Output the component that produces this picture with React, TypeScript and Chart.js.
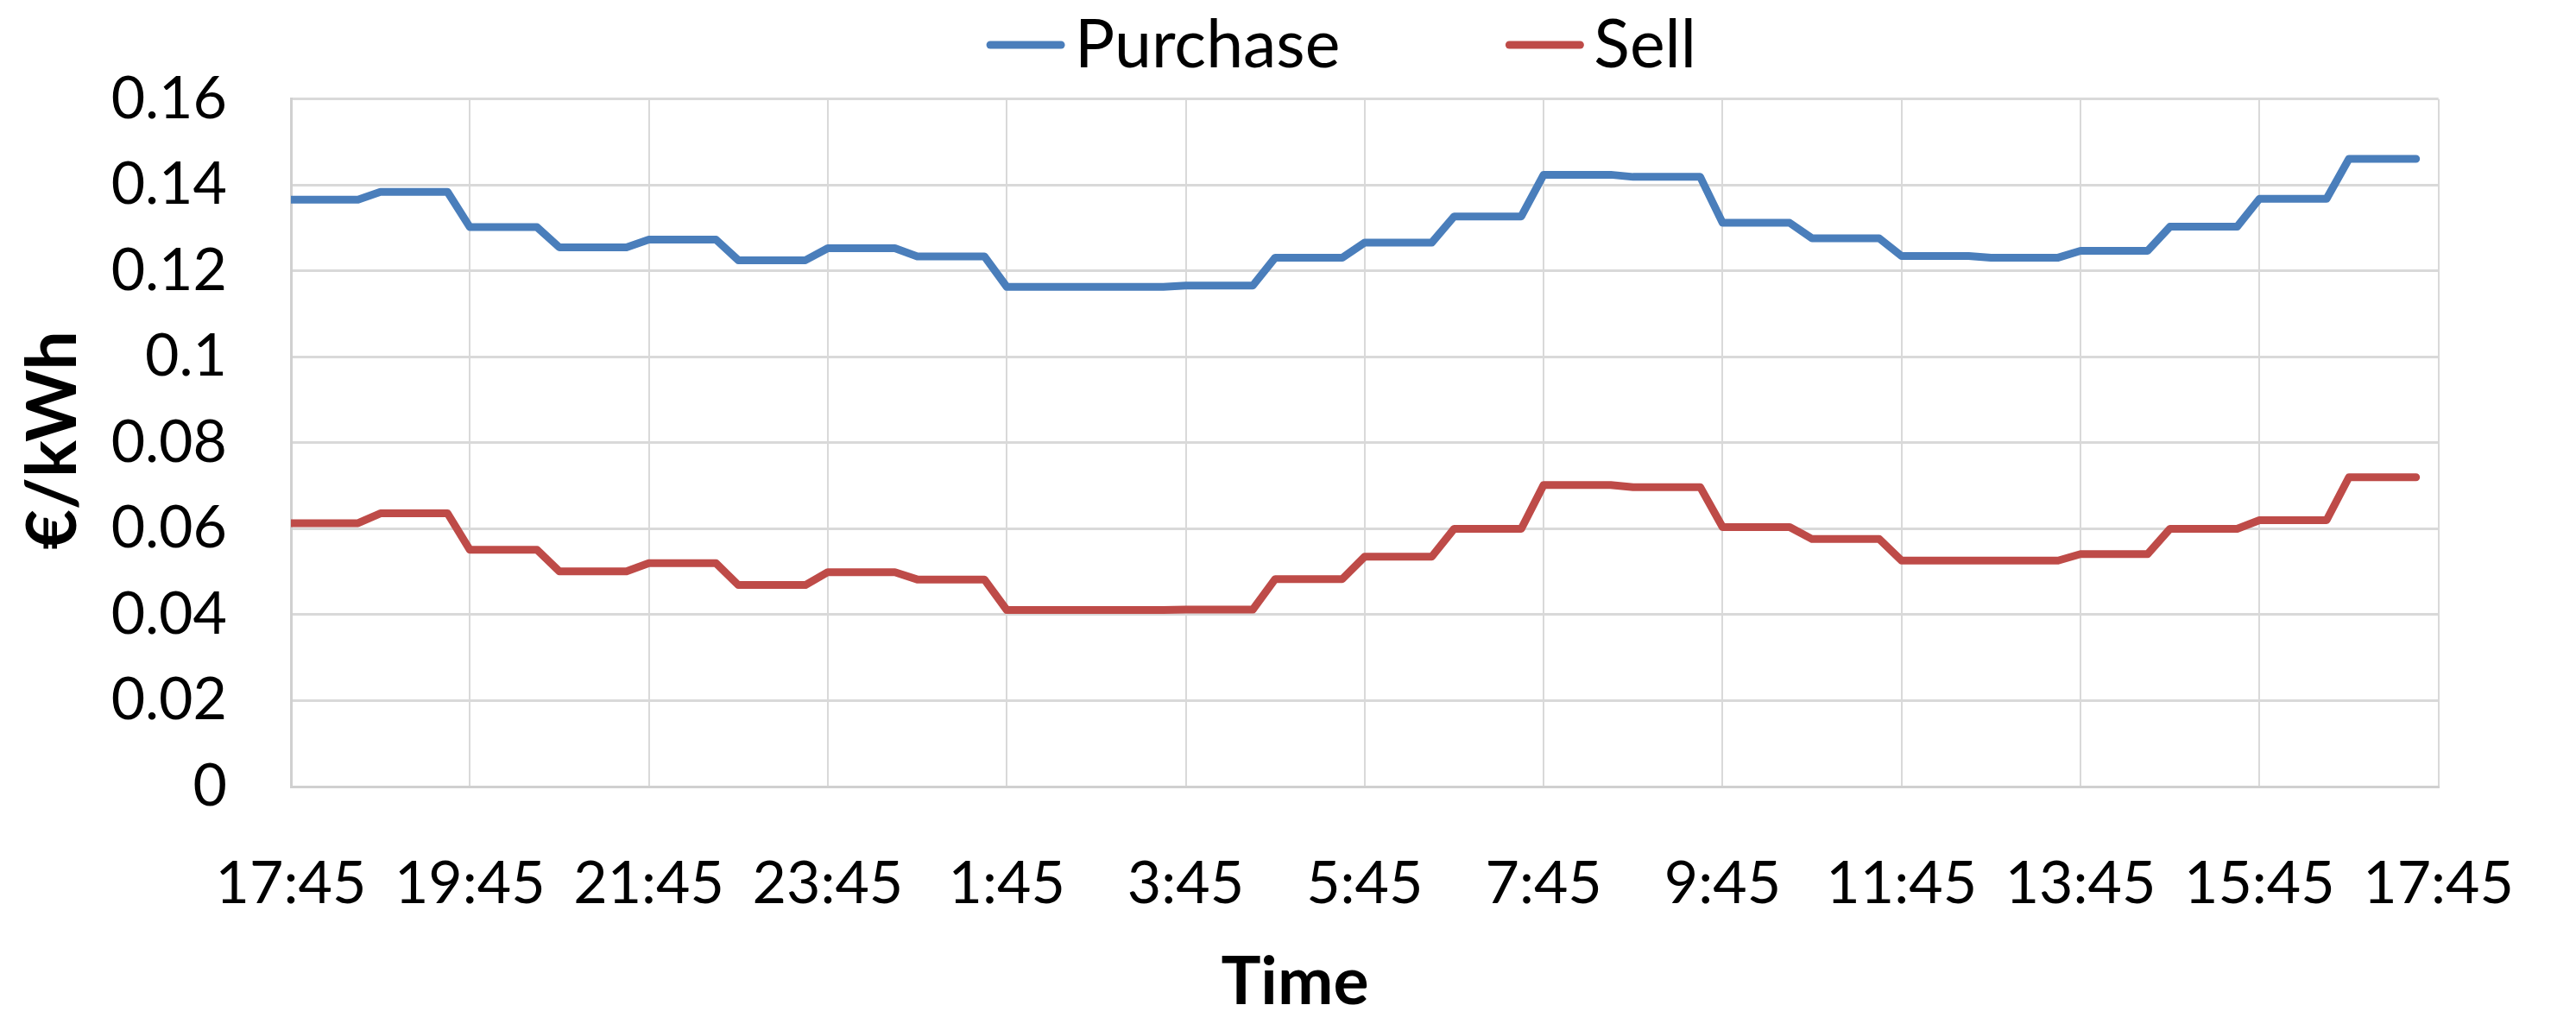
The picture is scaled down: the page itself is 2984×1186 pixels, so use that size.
import React, { useEffect, useRef } from "react";
import { Chart, registerables } from "chart.js";

Chart.register(...registerables);

// Hourly prices (each hour block starts at xx:45), €/kWh
const purchasePrice = [
  0.1366, 0.1384, 0.1302, 0.1255, 0.1273, 0.1225, 0.1253, 0.1234,
  0.1163, 0.1163, 0.1166, 0.1231, 0.1266, 0.1327, 0.1424, 0.1419,
  0.1312, 0.1276, 0.1235, 0.1231, 0.1247, 0.1303, 0.1368, 0.1461,
];
const sellPrice = [
  0.0613, 0.0636, 0.0551, 0.0501, 0.052, 0.0469, 0.0499, 0.0482,
  0.0411, 0.0411, 0.0412, 0.0483, 0.0535, 0.06, 0.0702, 0.0697,
  0.0604, 0.0576, 0.0526, 0.0526, 0.0541, 0.06, 0.062, 0.072,
];
const timeTickLabels = [
  "17:45", "19:45", "21:45", "23:45", "1:45", "3:45", "5:45",
  "7:45", "9:45", "11:45", "13:45", "15:45", "17:45",
];
const seriesNames = ["Purchase", "Sell"];
const seriesColors = ["#4A7EBB", "#BE4B48"];
const yAxisTitle = "€/kWh";
const xAxisTitle = "Time";

const STEP_MIN = 15;
const STEPS_PER_HOUR = 4;

const toPoints = (prices: number[]) =>
  prices.flatMap((p, h) =>
    Array.from({ length: STEPS_PER_HOUR }, (_, q) => ({
      x: (h * STEPS_PER_HOUR + q) * STEP_MIN,
      y: p,
    }))
  );

const FONT = "Lato, 'Liberation Sans', sans-serif";

const decorPlugin = {
  id: "decor",
  afterDraw(chart: any) {
    const { ctx } = chart;
    ctx.save();
    // Legend
    ctx.font = `77px ${FONT}`;
    ctx.fillStyle = "#000";
    ctx.textBaseline = "alphabetic";
    ctx.textAlign = "left";
    const sample = 90;
    const gap = 12;
    const itemGap = 192;
    const widths = seriesNames.map((n) => ctx.measureText(n).width);
    const total =
      widths.reduce((a: number, w: number) => a + w + sample + gap, 0) +
      itemGap * (seriesNames.length - 1);
    let x = 1554 - total / 2;
    const baseY = 78;
    seriesNames.forEach((name, i) => {
      ctx.strokeStyle = seriesColors[i];
      ctx.lineWidth = 9;
      ctx.lineCap = "round";
      ctx.beginPath();
      ctx.moveTo(x + 4, 52);
      ctx.lineTo(x + sample - 4, 52);
      ctx.stroke();
      ctx.fillText(name, x + sample + gap, baseY);
      x += sample + gap + widths[i] + itemGap;
    });
    // X title
    ctx.font = `bold 77px ${FONT}`;
    ctx.textAlign = "center";
    ctx.fillText(xAxisTitle, 1500, 1163);
    // Y title
    ctx.font = `bold 80px ${FONT}`;
    ctx.translate(88, 510);
    ctx.rotate(-Math.PI / 2);
    ctx.fillText(yAxisTitle, 0, 0);
    ctx.restore();
  },
};

export default function App() {
  const ref = useRef<HTMLCanvasElement | null>(null);
  useEffect(() => {
    if (!ref.current) return;
    const tickFont = { family: FONT, size: 68 };
    const chart = new Chart(ref.current, {
      type: "line",
      data: {
        datasets: [purchasePrice, sellPrice].map((arr, i) => ({
          label: seriesNames[i],
          data: toPoints(arr),
          borderColor: seriesColors[i],
          backgroundColor: seriesColors[i],
          borderWidth: 9,
          pointRadius: 0,
          tension: 0,
          borderJoinStyle: "round",
          borderCapStyle: "round",
          fill: false,
        })),
      },
      options: {
        animation: false,
        responsive: false,
        layout: { padding: { top: 113, right: 99, bottom: 0, left: 0 } },
        plugins: { legend: { display: false }, tooltip: { enabled: false } },
        scales: {
          x: {
            type: "linear",
            min: 0,
            max: 1440,
            ticks: {
              stepSize: 120,
              autoSkip: false,
              maxRotation: 0,
              padding: 72,
              color: "#000",
              font: tickFont,
              callback: (v: any) => timeTickLabels[Math.round(Number(v) / 120)] ?? "",
            },
            grid: { color: "#D9D9D9", lineWidth: 2, drawTicks: false },
            border: { color: "#D0D0D0", width: 3 },
            afterFit: (s: any) => {
              s.height = 275;
            },
          },
          y: {
            min: 0,
            max: 0.16,
            ticks: {
              stepSize: 0.02,
              padding: 74,
              color: "#000",
              font: tickFont,
              callback: (v: any) => String(+Number(v).toFixed(2)),
            },
            grid: { color: "#D9D9D9", lineWidth: 3, drawTicks: false },
            border: { color: "#D0D0D0", width: 3 },
            afterFit: (s: any) => {
              s.width = 337;
            },
          },
        },
      },
      plugins: [decorPlugin],
    } as any);
    return () => chart.destroy();
  }, []);
  return (
    <div style={{ position: "absolute", left: 0, top: 0, width: 2984, height: 1186, background: "#fff" }}>
      <canvas ref={ref} width={2984} height={1186} style={{ display: "block" }} />
    </div>
  );
}
